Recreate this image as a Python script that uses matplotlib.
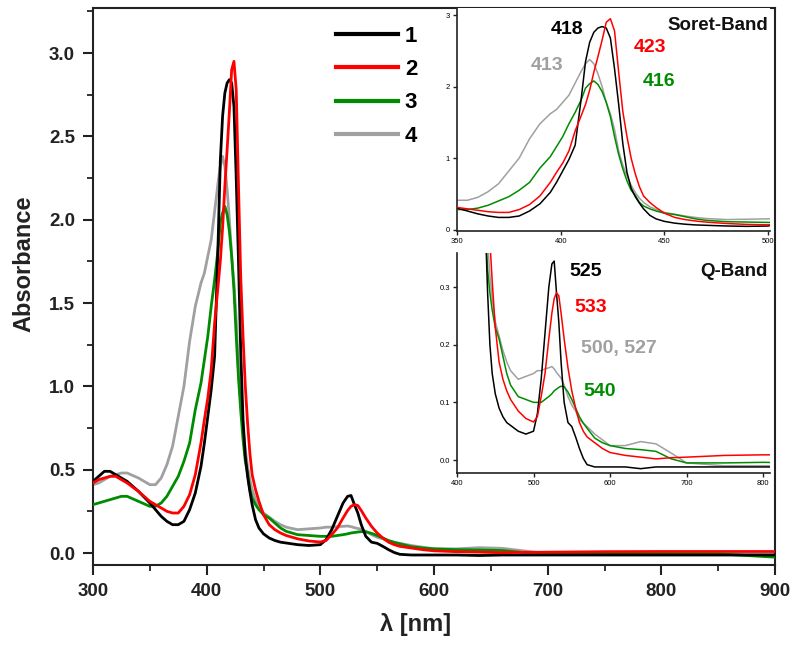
import matplotlib
matplotlib.use("Agg")
import matplotlib.pyplot as plt
from matplotlib.ticker import MultipleLocator, FormatStrFormatter

plt.rcParams['font.family'] = ['Liberation Sans', 'DejaVu Sans']

# ---------------- data ----------------
wavelength = [300, 305, 310, 315, 320, 325, 330, 340, 350, 355, 360, 365, 370, 375, 380, 385, 390, 395,
              398, 401, 404, 407, 410, 412, 414, 416, 418, 420, 422, 424, 426, 428, 430, 432, 434, 436,
              438, 440, 443, 446, 450, 455, 460, 465, 470, 480, 490, 500, 505, 510, 515, 520, 524, 527,
              530, 533, 536, 540, 545, 550, 555, 560, 565, 570, 580, 590, 600, 620, 640, 660, 680, 700,
              750, 800, 850, 900]

abs_1 = [0.43, 0.46, 0.49, 0.49, 0.47, 0.45, 0.43, 0.37, 0.30, 0.26, 0.22, 0.19, 0.17, 0.17, 0.19, 0.26, 0.36, 0.52,
         0.66, 0.82, 0.98, 1.18, 1.85, 2.35, 2.62, 2.76, 2.82, 2.84, 2.82, 2.68, 2.25, 1.75, 1.20, 0.80, 0.58, 0.46,
         0.37, 0.29, 0.20, 0.15, 0.115, 0.09, 0.075, 0.065, 0.06, 0.05, 0.045, 0.05, 0.08, 0.14, 0.22, 0.30, 0.34, 0.345,
         0.29, 0.24, 0.17, 0.10, 0.065, 0.058, 0.04, 0.02, 0.003, -0.008, -0.012, -0.012, -0.012, -0.012, -0.015, -0.012, -0.012, -0.012,
         -0.012, -0.012, -0.012, -0.012]

abs_2 = [0.42, 0.44, 0.45, 0.46, 0.46, 0.44, 0.42, 0.37, 0.31, 0.29, 0.27, 0.25, 0.24, 0.24, 0.28, 0.35, 0.47, 0.66,
         0.80, 0.93, 1.10, 1.38, 1.60, 1.75, 1.95, 2.20, 2.42, 2.65, 2.90, 2.95, 2.78, 2.20, 1.65, 1.30, 1.00, 0.78,
         0.60, 0.47, 0.38, 0.31, 0.23, 0.17, 0.14, 0.12, 0.105, 0.085, 0.072, 0.066, 0.075, 0.11, 0.15, 0.21, 0.255, 0.28,
         0.29, 0.285, 0.255, 0.21, 0.16, 0.12, 0.09, 0.065, 0.05, 0.04, 0.03, 0.02, 0.013, 0.008, 0.005, 0.002, 0.004, 0.005,
         0.008, 0.009, 0.009, 0.009]

abs_3 = [0.29, 0.30, 0.31, 0.32, 0.33, 0.34, 0.34, 0.31, 0.28, 0.28, 0.30, 0.34, 0.40, 0.46, 0.55, 0.66, 0.86, 1.02,
         1.16, 1.30, 1.48, 1.64, 1.82, 1.98, 2.04, 2.08, 2.03, 1.93, 1.78, 1.58, 1.30, 1.05, 0.85, 0.68, 0.55, 0.48,
         0.38, 0.33, 0.29, 0.26, 0.23, 0.21, 0.18, 0.15, 0.13, 0.11, 0.105, 0.10, 0.10, 0.10, 0.105, 0.11, 0.115, 0.12,
         0.123, 0.126, 0.128, 0.127, 0.118, 0.105, 0.09, 0.075, 0.064, 0.055, 0.038, 0.03, 0.025, 0.02, 0.018, 0.015, 0.002, -0.005,
         -0.005, -0.004, -0.005, -0.025]

abs_4 = [0.41, 0.42, 0.44, 0.46, 0.47, 0.48, 0.48, 0.45, 0.41, 0.41, 0.45, 0.53, 0.64, 0.82, 1.00, 1.27, 1.48, 1.62,
         1.68, 1.78, 1.88, 2.05, 2.22, 2.32, 2.38, 2.32, 2.18, 2.00, 1.78, 1.62, 1.40, 1.10, 0.90, 0.75, 0.62, 0.52,
         0.44, 0.38, 0.32, 0.28, 0.24, 0.215, 0.19, 0.17, 0.155, 0.14, 0.145, 0.15, 0.155, 0.155, 0.158, 0.16, 0.162, 0.158,
         0.152, 0.147, 0.142, 0.13, 0.11, 0.095, 0.085, 0.07, 0.064, 0.058, 0.045, 0.035, 0.025, 0.025, 0.032, 0.028, 0.012, -0.005,
         -0.01, -0.01, -0.01, -0.01]

labels = ["1", "2", "3", "4"]
colors = ["#000000", "#ff0000", "#008c00", "#a0a0a0"]
zorders = [4, 5, 3, 2]
series = [abs_1, abs_2, abs_3, abs_4]

soret_labels = ["418", "423", "413", "416"]
q_labels = ["525", "533", "500, 527", "540"]

assert all(len(s) == len(wavelength) for s in series)

W, H = 800, 645
fig = plt.figure(figsize=(W / 100, H / 100), dpi=100)

def fx(px):
    return px / W

def fy(py):
    return 1 - py / H

axis_col = "#222222"

# ---------------- main axes ----------------
ax = fig.add_axes([fx(93), fy(565), fx(775) - fx(93), fy(8) - fy(565)])
for s, lab, c, z in zip(series, labels, colors, zorders):
    ax.plot(wavelength, s, color=c, lw=2.0, label=lab, zorder=z)
ax.set_xlim(300, 900)
ax.set_ylim(-0.072, 3.27)
ax.xaxis.set_major_locator(MultipleLocator(100))
ax.xaxis.set_minor_locator(MultipleLocator(50))
ax.yaxis.set_major_locator(MultipleLocator(0.5))
ax.yaxis.set_minor_locator(MultipleLocator(0.25))
ax.yaxis.set_major_formatter(FormatStrFormatter("%.1f"))
for sp in ax.spines.values():
    sp.set_linewidth(1.5)
    sp.set_color(axis_col)
ax.tick_params(which="major", direction="out", length=7, width=1.5, color=axis_col,
               labelsize=13.5, pad=6, labelcolor="#222222")
ax.tick_params(which="minor", direction="out", length=4, width=1.3, color=axis_col)
for t in ax.get_xticklabels() + ax.get_yticklabels():
    t.set_fontweight("bold")
ax.set_xlabel("λ [nm]", fontsize=17, fontweight="bold", color="#222222")
ax.set_ylabel("Absorbance", fontsize=17, fontweight="bold", color="#222222")
ax.xaxis.label.set_va("center")
ax.yaxis.label.set_va("center")
ax.xaxis.set_label_coords((416 - 93) / (775 - 93), -(625 - 565) / (565 - 8))
ax.yaxis.set_label_coords(-(93 - 24) / (775 - 93), (565 - 264) / (565 - 8))

handles, labs = ax.get_legend_handles_labels()
leg = ax.legend(handles, labs, loc="upper left", bbox_to_anchor=(fx(336), fy(26)),
                bbox_transform=fig.transFigure, frameon=False, borderpad=0, borderaxespad=0,
                handlelength=2.8, handletextpad=0.3, labelspacing=0.55,
                prop={"size": 16, "weight": "bold"})
for line in leg.get_lines():
    line.set_linewidth(3)

# ---------------- Soret inset ----------------
ax1 = fig.add_axes([fx(457), fy(231), fx(770) - fx(457), fy(8) - fy(231)])
for s, c, z in zip(series, colors, zorders):
    ax1.plot(wavelength, s, color=c, lw=1.1, zorder=z)
ax1.set_xlim(350, 501)
ax1.set_ylim(-0.02, 3.1)
ax1.set_xticks([350, 400, 450, 500])
ax1.set_yticks([0, 1, 2, 3])
ax1.spines["top"].set_visible(False)
ax1.spines["right"].set_visible(False)
for sp in ["left", "bottom"]:
    ax1.spines[sp].set_linewidth(1.2)
    ax1.spines[sp].set_color(axis_col)
ax1.tick_params(direction="out", length=3, width=1, labelsize=5.5, pad=2, color=axis_col)

# ---------------- Q-band inset ----------------
ax2 = fig.add_axes([fx(457), fy(473), fx(770) - fx(457), fy(253) - fy(473)])
for s, c, z in zip(series, colors, zorders):
    ax2.plot(wavelength, s, color=c, lw=1.1, zorder=z)
ax2.set_xlim(400, 809)
ax2.set_ylim(-0.0225, 0.359)
ax2.set_xticks([400, 500, 600, 700, 800])
ax2.set_yticks([0.0, 0.1, 0.2, 0.3])
ax2.yaxis.set_major_formatter(FormatStrFormatter("%.1f"))
ax2.spines["top"].set_visible(False)
ax2.spines["right"].set_visible(False)
for sp in ["left", "bottom"]:
    ax2.spines[sp].set_linewidth(1.2)
    ax2.spines[sp].set_color(axis_col)
ax2.tick_params(direction="out", length=3, width=1, labelsize=5.5, pad=2, color=axis_col)

# ---------------- annotations ----------------
txt_kw = dict(ha="center", va="center", fontsize=14, fontweight="bold")
soret_pos = [(567, 30), (650, 48), (547, 66), (659, 82)]
soret_cols = [colors[0], colors[1], colors[3], colors[2]]
for lab, (px, py), c in zip(soret_labels, soret_pos, soret_cols):
    fig.text(fx(px), fy(py), lab, color=c, **txt_kw)
fig.text(fx(768), fy(25), "Soret-Band", ha="right", va="center", fontsize=13.5,
         fontweight="bold", color="#111111")

q_pos = [(586, 271), (591, 307), (619, 348), (600, 391)]
q_cols = [colors[0], colors[1], colors[3], colors[2]]
for lab, (px, py), c in zip(q_labels, q_pos, q_cols):
    fig.text(fx(px), fy(py), lab, color=c, **txt_kw)
fig.text(fx(768), fy(272), "Q-Band", ha="right", va="center", fontsize=13.5,
         fontweight="bold", color="#111111")

fig.savefig("out.png", dpi=100)
